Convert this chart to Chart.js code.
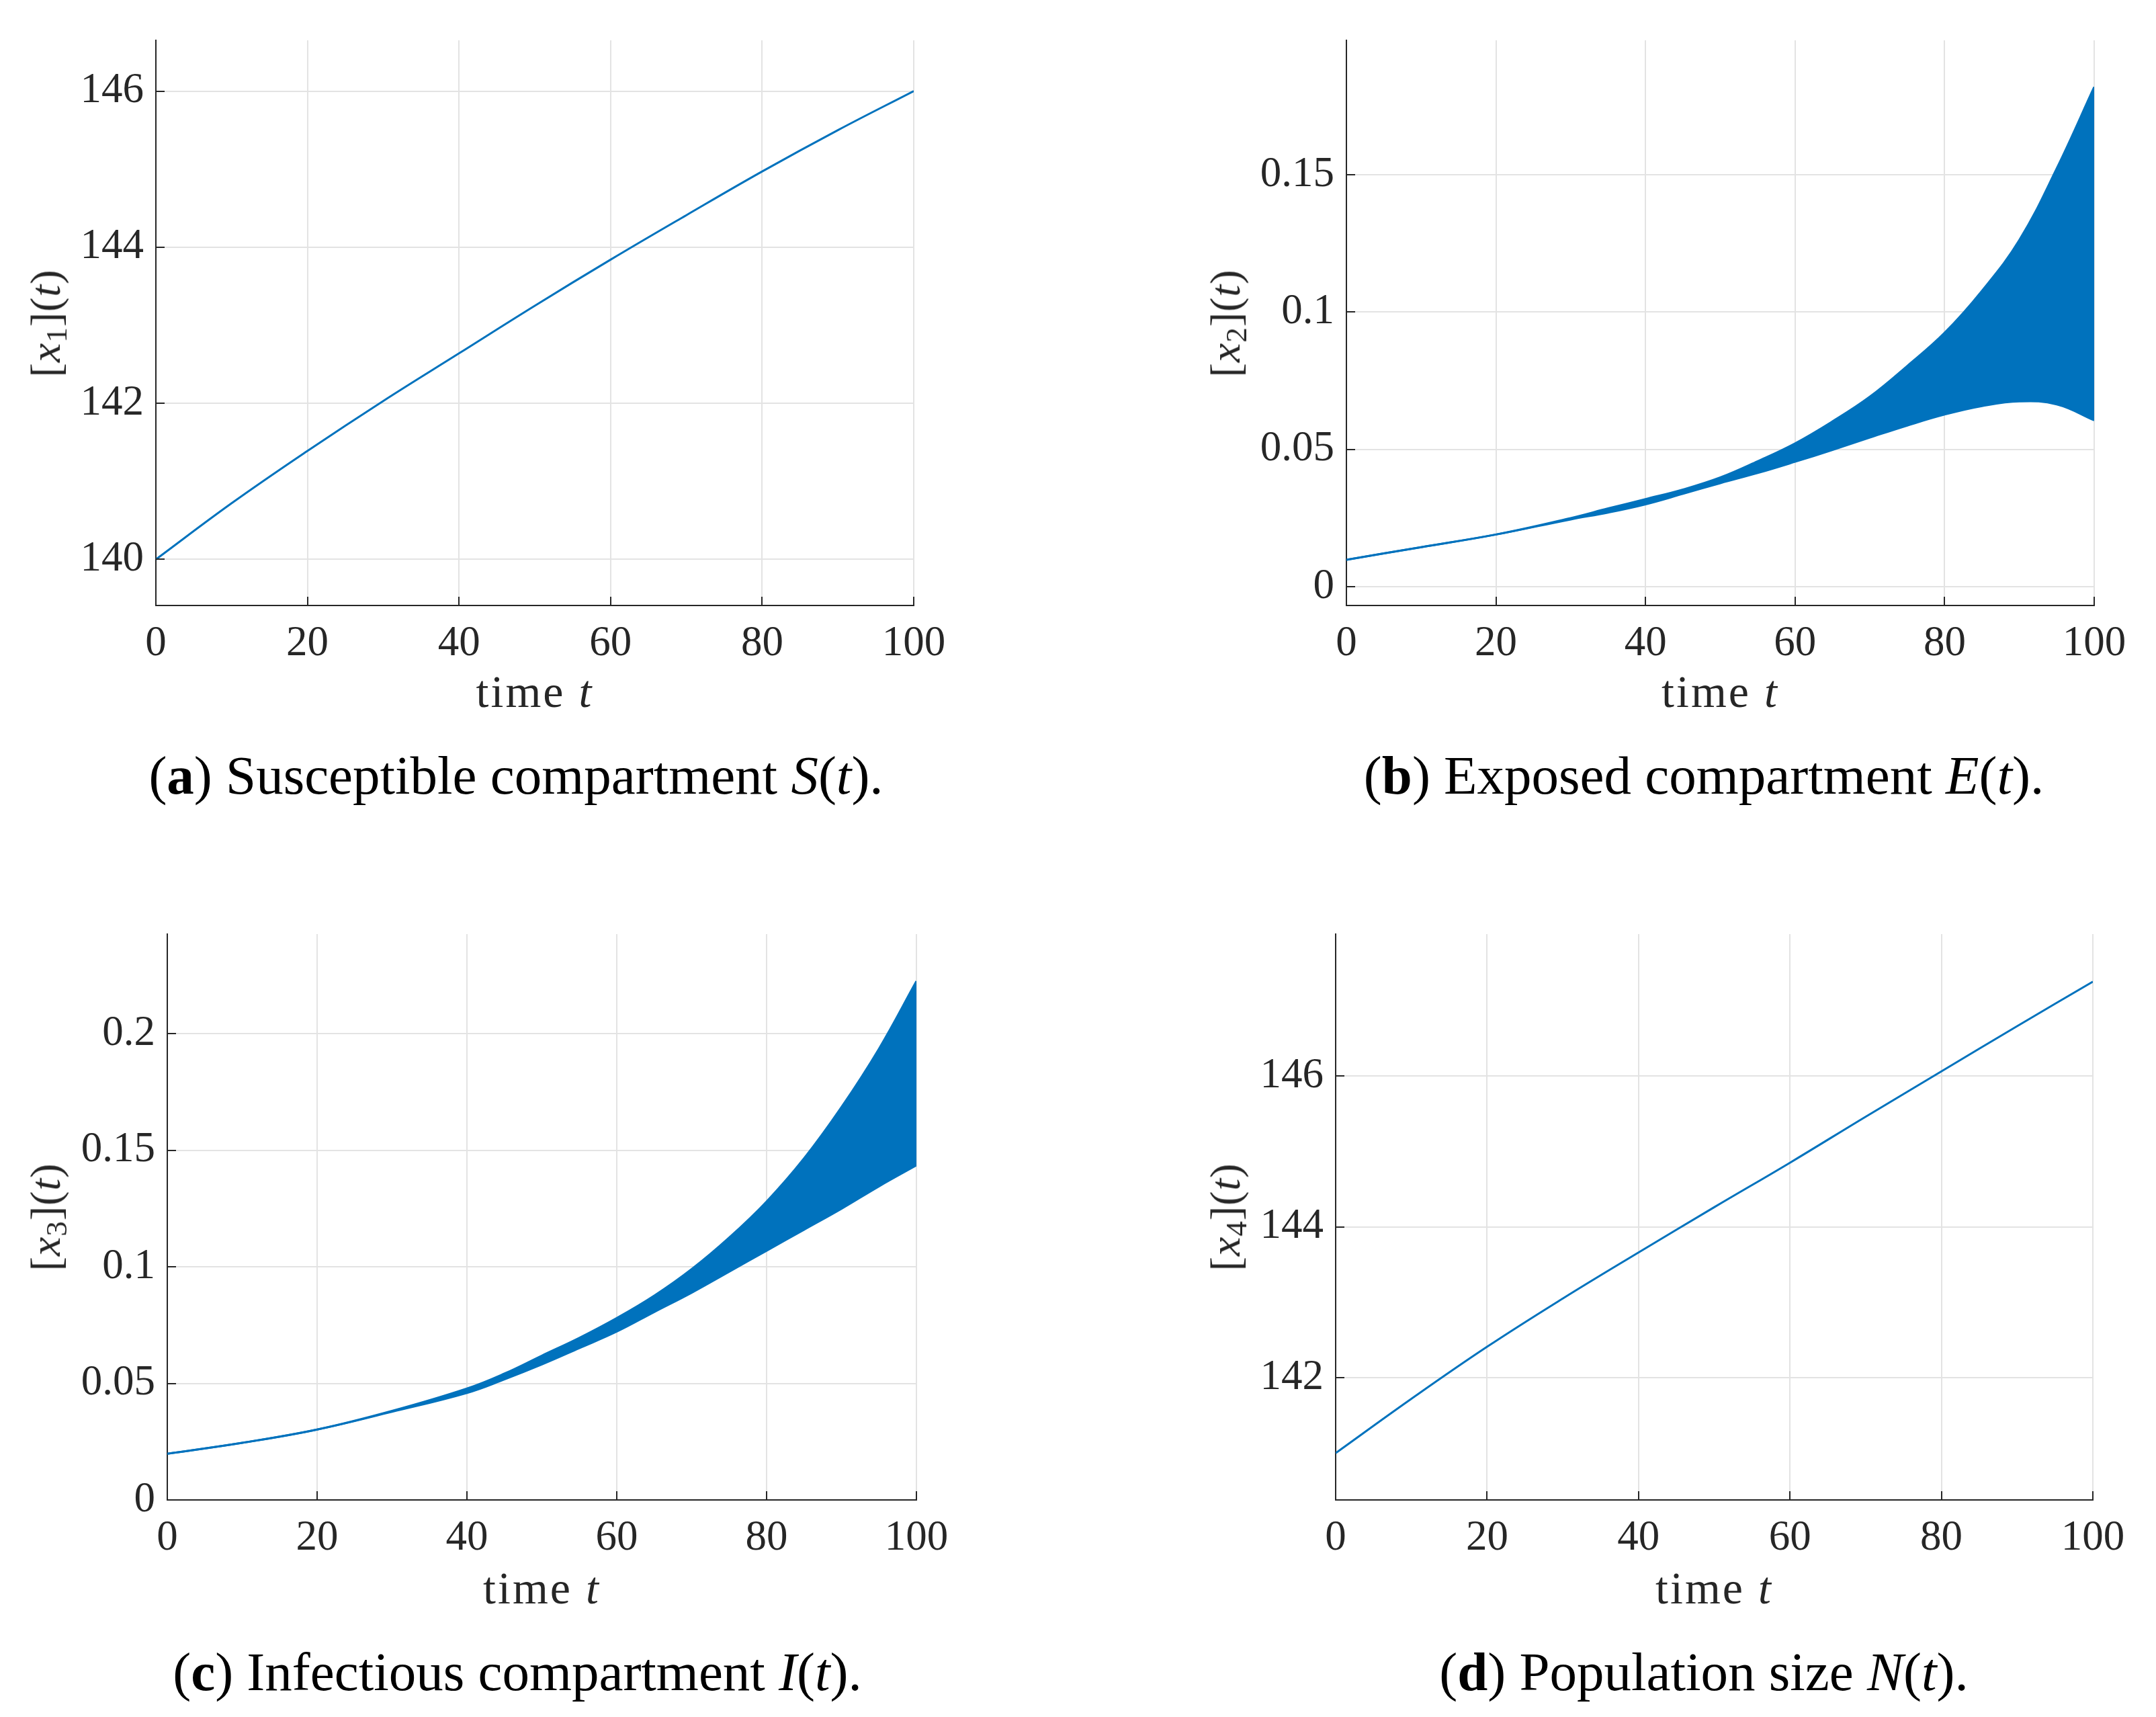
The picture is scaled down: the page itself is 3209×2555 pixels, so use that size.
<!DOCTYPE html>
<html><head><meta charset="utf-8">
<script src="https://cdn.jsdelivr.net/npm/chart.js@4.4.1/dist/chart.umd.min.js"></script>
<style>
html,body{margin:0;padding:0;background:#fff;}
body{width:3209px;height:2555px;position:relative;overflow:hidden;font-family:"Liberation Serif",serif;}
canvas{position:absolute;}
.lbl{position:absolute;white-space:nowrap;color:#262626;line-height:1;}
.xlab{transform:translateX(-50%);font-size:68px;letter-spacing:3px;}
.ylab{transform:translate(-50%,-50%) rotate(-90deg);font-size:64px;letter-spacing:1px;}
.cap{position:absolute;white-space:nowrap;color:#000;font-size:81px;line-height:1;transform:translateX(-50%);}
sub{font-size:0.7em;vertical-align:-0.22em;line-height:0;}
</style></head>
<body>
<canvas id="cA"></canvas>
<canvas id="cB"></canvas>
<canvas id="cC"></canvas>
<canvas id="cD"></canvas>
<div class="lbl ylab" id="yA">[<i>x</i><sub>1</sub>](<i>t</i>)</div>
<div class="lbl ylab" id="yB">[<i>x</i><sub>2</sub>](<i>t</i>)</div>
<div class="lbl ylab" id="yC">[<i>x</i><sub>3</sub>](<i>t</i>)</div>
<div class="lbl ylab" id="yD">[<i>x</i><sub>4</sub>](<i>t</i>)</div>
<div class="lbl xlab" id="xA">time <i>t</i></div>
<div class="lbl xlab" id="xB">time <i>t</i></div>
<div class="lbl xlab" id="xC">time <i>t</i></div>
<div class="lbl xlab" id="xD">time <i>t</i></div>
<div class="cap" id="capA">(<b>a</b>) Susceptible compartment <i>S</i>(<i>t</i>).</div>
<div class="cap" id="capB">(<b>b</b>) Exposed compartment <i>E</i>(<i>t</i>).</div>
<div class="cap" id="capC">(<b>c</b>) Infectious compartment <i>I</i>(<i>t</i>).</div>
<div class="cap" id="capD">(<b>d</b>) Population size <i>N</i>(<i>t</i>).</div>
<script>
// ---- data ----
const timeA = [0,10,20,30,40,50,60,70,80,90,100];
const susceptible = [140.0,140.72,141.39,142.03,142.64,143.25,143.84,144.41,144.97,145.5,146.0];

const timeB = [0,10,20,30,35,40,45,50,55,60,65,70,75,80,85,90,95,100];
const exposedLower = [0.0098,0.0144,0.019,0.0245,0.027,0.030,0.0338,0.0377,0.0414,0.0455,0.0498,0.0543,0.0587,0.0627,0.0658,0.0675,0.0664,0.0606];
const exposedUpper = [0.0098,0.0144,0.019,0.025,0.0285,0.0319,0.0354,0.0398,0.0457,0.0522,0.0602,0.0692,0.0804,0.0925,0.1078,0.1263,0.1524,0.182];

const timeC = [0,10,20,30,40,45,50,55,60,65,70,75,80,85,90,95,100];
const infectiousLower = [0.0198,0.0245,0.0302,0.0378,0.0459,0.0517,0.0581,0.0651,0.0722,0.0806,0.0889,0.0979,0.1069,0.1159,0.1249,0.1345,0.1435];
const infectiousUpper = [0.0198,0.0245,0.0302,0.0382,0.0478,0.0542,0.0619,0.0695,0.078,0.0876,0.099,0.1125,0.128,0.1465,0.1685,0.1935,0.2225];

const timeD = [0,10,20,30,40,50,60,70,80,90,100];
const populationSize = [141.0,141.72,142.41,143.05,143.66,144.26,144.85,145.46,146.06,146.66,147.25];

const xTicks = [0,20,40,60,80,100];
const yTicksA = [140,142,144,146];
const yTicksB = [0,0.05,0.1,0.15];
const yTicksC = [0,0.05,0.1,0.15,0.2];
const yTicksD = [142,144,146];

// ---- layout ----
const BLUE = '#0072BD';
const PADL = 220, PADT = 60, PADR = 100, PADB = 120;

const inwardTicks = {
  id: 'inwardTicks',
  afterDraw(chart) {
    const ctx = chart.ctx, a = chart.chartArea;
    const xs = chart.scales.x, ys = chart.scales.y;
    ctx.save();
    ctx.strokeStyle = '#262626';
    ctx.lineWidth = 2;
    ctx.beginPath();
    xs.ticks.forEach(t => { const px = Math.round(xs.getPixelForValue(t.value)); ctx.moveTo(px, a.bottom); ctx.lineTo(px, a.bottom - 13); });
    ys.ticks.forEach(t => { const py = Math.round(ys.getPixelForValue(t.value)); ctx.moveTo(a.left, py); ctx.lineTo(a.left + 13, py); });
    ctx.stroke();
    ctx.restore();
  }
};

function series(ts, vs, extra) {
  return Object.assign({
    data: ts.map((t, i) => ({x: t, y: vs[i]})),
    borderColor: BLUE, backgroundColor: BLUE, borderWidth: 3,
    pointRadius: 0, tension: 0.4, fill: false
  }, extra || {});
}

function makeChart(id, box, yMin, yMax, yTicks, datasets) {
  const cv = document.getElementById(id);
  const w = (box.r - box.l) + PADL + PADR;
  const h = (box.b - box.t) + PADT + PADB;
  cv.width = w; cv.height = h;
  cv.style.left = (box.l - PADL) + 'px';
  cv.style.top = (box.t - PADT) + 'px';
  cv.style.width = w + 'px'; cv.style.height = h + 'px';
  const tickFont = {family: '"Liberation Serif", serif', size: 63};
  return new Chart(cv, {
    type: 'line',
    data: {datasets},
    options: {
      responsive: false, animation: false, devicePixelRatio: 1,
      layout: {padding: {top: PADT, right: PADR, left: 0, bottom: 0}},
      plugins: {legend: {display: false}, tooltip: {enabled: false}},
      scales: {
        x: {
          type: 'linear', min: 0, max: 100,
          afterFit(s) { s.height = PADB; },
          afterBuildTicks(s) { s.ticks = xTicks.map(v => ({value: v})); },
          grid: {color: '#e3e3e3', lineWidth: 2, drawTicks: false},
          border: {color: '#262626', width: 2},
          ticks: {color: '#262626', font: tickFont, padding: 20, maxRotation: 0, autoSkip: false,
                  callback: v => String(v)}
        },
        y: {
          type: 'linear', min: yMin, max: yMax,
          afterFit(s) { s.width = PADL; },
          afterBuildTicks(s) { s.ticks = yTicks.map(v => ({value: v})); },
          grid: {color: '#e3e3e3', lineWidth: 2, drawTicks: false},
          border: {color: '#262626', width: 2},
          ticks: {color: '#262626', font: tickFont, padding: 18, autoSkip: false,
                  callback: v => String(v)}
        }
      }
    },
    plugins: [inwardTicks]
  });
}

const boxA = {l: 232, t: 60, r: 1360, b: 901};
const boxB = {l: 2004, t: 60, r: 3117, b: 901};
const boxC = {l: 249, t: 1390, r: 1364, b: 2232};
const boxD = {l: 1988, t: 1390, r: 3115, b: 2232};

makeChart('cA', boxA, 139.41, 146.65, yTicksA, [series(timeA, susceptible)]);
makeChart('cB', boxB, -0.00685, 0.199, yTicksB, [series(timeB, exposedLower), series(timeB, exposedUpper, {fill: '-1'})]);
makeChart('cC', boxC, 0, 0.2427, yTicksC, [series(timeC, infectiousLower), series(timeC, infectiousUpper, {fill: '-1'})]);
makeChart('cD', boxD, 140.38, 147.88, yTicksD, [series(timeD, populationSize)]);

// ---- text placement ----
function place(id, x, y) { const e = document.getElementById(id); e.style.left = x + 'px'; e.style.top = y + 'px'; }
const F = 68, CF = 81;
place('yA', 68, (boxA.t + boxA.b) / 2);
place('yB', 1824, (boxB.t + boxB.b) / 2);
place('yC', 68, (boxC.t + boxC.b) / 2);
place('yD', 1824, (boxD.t + boxD.b) / 2);
place('xA', (boxA.l + boxA.r) / 2, 1052 - 0.8375 * F);
place('xB', (boxB.l + boxB.r) / 2, 1052 - 0.8375 * F);
place('xC', (boxC.l + boxC.r) / 2, 2386 - 0.8375 * F);
place('xD', (boxD.l + boxD.r) / 2, 2386 - 0.8375 * F);
place('capA', 768, 1182 - 0.8375 * CF);
place('capB', 2536, 1182 - 0.8375 * CF);
place('capC', 770, 2516 - 0.8375 * CF);
place('capD', 2536, 2516 - 0.8375 * CF);
</script>
</body></html>
